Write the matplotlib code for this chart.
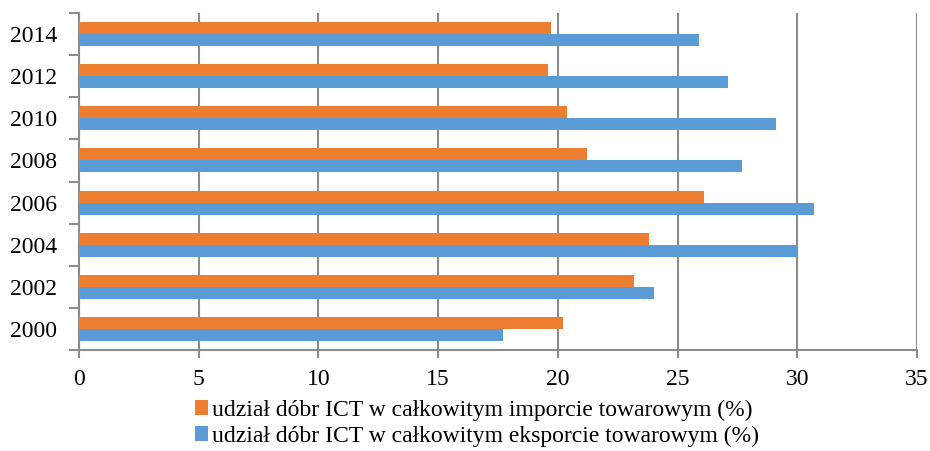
import matplotlib
matplotlib.use("Agg")
import matplotlib.pyplot as plt
import numpy as np

years = ["2000", "2002", "2004", "2006", "2008", "2010", "2012", "2014"]
import_share = [20.2, 23.2, 23.8, 26.1, 21.2, 20.4, 19.6, 19.7]
export_share = [17.7, 24.0, 30.0, 30.7, 27.7, 29.1, 27.1, 25.9]
label_import = "udział dóbr ICT w całkowitym imporcie towarowym (%)"
label_export = "udział dóbr ICT w całkowitym eksporcie towarowym (%)"

plt.rcParams["font.family"] = ["Liberation Serif", "DejaVu Serif"]

orange = "#ED7D31"
blue = "#5B9BD5"
grid_c = "#8C8C8C"

fig = plt.figure(figsize=(9.3, 4.51), dpi=100)
ax = fig.add_axes([0.0849, 0.224, 0.9011, 0.747])

y = np.arange(len(years))
h = 0.285
ax.barh(y + h / 2, import_share, height=h, color=orange, label=label_import, zorder=3)
ax.barh(y - h / 2, export_share, height=h, color=blue, label=label_export, zorder=3)

ax.set_xlim(0, 35)
ax.set_ylim(-0.5, len(years) - 0.5)
ax.set_xticks(np.arange(0, 36, 5))
ax.set_yticks(y)
ax.set_yticklabels(years)
ax.set_yticks(np.arange(-0.5, len(years), 1), minor=True)

ax.xaxis.grid(True, color=grid_c, linewidth=1.5, zorder=0)
ax.yaxis.grid(False)
for s in ["top", "right"]:
    ax.spines[s].set_visible(False)
for s in ["left", "bottom"]:
    ax.spines[s].set_color(grid_c)
    ax.spines[s].set_linewidth(1.5)

ax.tick_params(axis="y", which="major", length=0, pad=15.5, labelsize=17)
ax.tick_params(axis="y", which="minor", length=7, width=1.5, color=grid_c)
ax.tick_params(axis="x", which="major", length=6, width=1.5, color=grid_c, labelsize=17, pad=7.5)

leg = fig.legend(loc="upper center", bbox_to_anchor=(0.513, 0.14), ncol=1, frameon=False,
                 fontsize=17, handlelength=0.55, handleheight=0.55, handletextpad=0.2,
                 labelspacing=0.2, borderpad=0)

fig.savefig("out.png", dpi=100)
